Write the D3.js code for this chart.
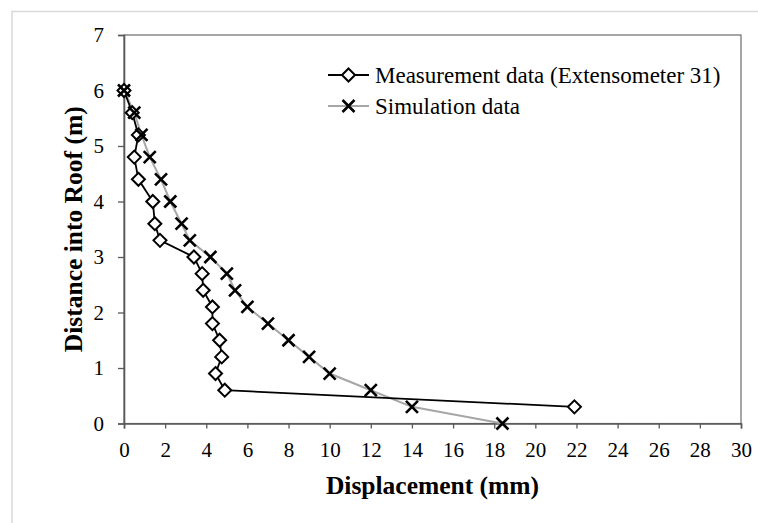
<!DOCTYPE html>
<html>
<head>
<meta charset="utf-8">
<script src="https://cdn.jsdelivr.net/npm/d3@7"></script>
<style>
  body { margin: 0; background: #fff; }
  svg { display: block; font-family: "Liberation Serif", "Times New Roman", serif; }
</style>
</head>
<body>
<svg></svg>
<script>
let width = 758;
let height = 523;

// measurement data (extensometer 31)
let measDepth = [6, 5.6, 5.2, 4.8, 4.4, 4.0, 3.6, 3.3, 3.0, 2.7, 2.4, 2.1, 1.8, 1.5, 1.2, 0.9, 0.6, 0.3];
let measDisp = [0, 0.4, 0.7, 0.5, 0.7, 1.4, 1.5, 1.75, 3.4, 3.8, 3.85, 4.3, 4.3, 4.65, 4.75, 4.45, 4.9, 21.9];

// simulation data
let simDepth = [6, 5.6, 5.2, 4.8, 4.4, 4.0, 3.6, 3.3, 3.0, 2.7, 2.4, 2.1, 1.8, 1.5, 1.2, 0.9, 0.6, 0.3, 0];
let simDisp = [0, 0.5, 0.85, 1.25, 1.8, 2.25, 2.8, 3.2, 4.2, 5.0, 5.4, 6.0, 7.0, 8.0, 9.0, 10.0, 12.0, 14.0, 18.4];

let xTicks = d3.range(0, 31, 2);
let yTicks = [0, 1, 2, 3, 4, 5, 6, 7];
let legendLabels = ['Measurement data (Extensometer 31)', 'Simulation data'];

let margin = {left: 124, right: 17, top: 35, bottom: 99.5};
let plotW = width - margin.left - margin.right;
let plotH = height - margin.top - margin.bottom;

let x = d3.scaleLinear().domain([0, 30]).range([0, plotW]);
let y = d3.scaleLinear().domain([0, 7]).range([plotH, 0]);

let svg = d3.select('svg')
  .attr('width', width)
  .attr('height', height);

// light outer frame
svg.append('rect')
  .attr('x', 12).attr('y', 11.5)
  .attr('width', 800).attr('height', 600)
  .attr('fill', 'none')
  .attr('stroke', '#d9d9d9')
  .attr('stroke-width', 1.5);

let g = svg.append('g')
  .attr('transform', `translate(${margin.left}, ${margin.top})`);

// plot box
g.append('rect')
  .attr('width', plotW).attr('height', plotH)
  .attr('fill', 'none')
  .attr('stroke', '#6b6b6b')
  .attr('stroke-width', 1.2);

let xAxis = g.append('g')
  .attr('transform', `translate(0, ${plotH})`)
  .call(d3.axisBottom(x).tickValues(xTicks).tickFormat(d3.format('d')).tickSize(5).tickPadding(14));

let yAxis = g.append('g')
  .call(d3.axisLeft(y).tickValues(yTicks).tickFormat(d3.format('d')).tickSize(6).tickPadding(14));

[xAxis, yAxis].forEach(a => {
  a.select('.domain').attr('stroke', '#595959').attr('stroke-width', 1.6);
  a.selectAll('.tick line').attr('stroke', '#595959').attr('stroke-width', 1.3);
  a.selectAll('.tick text')
    .attr('fill', '#000')
    .style('font-family', '"Liberation Serif", serif')
    .style('font-size', '21px');
});

// axis titles
svg.append('text')
  .attr('x', margin.left + plotW / 2)
  .attr('y', 494)
  .attr('text-anchor', 'middle')
  .style('font-weight', 'bold')
  .style('font-size', '25.5px')
  .text('Displacement (mm)');

svg.append('text')
  .attr('transform', `translate(82, ${margin.top + plotH / 2}) rotate(-90)`)
  .attr('text-anchor', 'middle')
  .style('font-weight', 'bold')
  .style('font-size', '25.5px')
  .text('Distance into Roof (m)');

let measData = measDepth.map((d, i) => ({x: measDisp[i], y: d}));
let simData = simDepth.map((d, i) => ({x: simDisp[i], y: d}));

let line = d3.line()
  .x(d => x(d.x))
  .y(d => y(d.y));

g.append('path')
  .datum(simData)
  .attr('fill', 'none')
  .attr('stroke', '#a6a6a6')
  .attr('stroke-width', 2)
  .attr('d', line);

g.append('path')
  .datum(measData)
  .attr('fill', 'none')
  .attr('stroke', '#000')
  .attr('stroke-width', 1.8)
  .attr('d', line);

// marker shapes
let diamond = 'M0,-6.5L6.5,0L0,6.5L-6.5,0Z';
let cross = 'M-6,-6L6,6M-6,6L6,-6';

g.selectAll('.meas-pt')
  .data(measData)
  .enter()
  .append('path')
    .classed('meas-pt', true)
    .attr('transform', d => `translate(${x(d.x)}, ${y(d.y)})`)
    .attr('d', diamond)
    .attr('fill', '#fff')
    .attr('stroke', '#000')
    .attr('stroke-width', 2);

g.selectAll('.sim-pt')
  .data(simData)
  .enter()
  .append('path')
    .classed('sim-pt', true)
    .attr('transform', d => `translate(${x(d.x)}, ${y(d.y)})`)
    .attr('d', cross)
    .attr('fill', 'none')
    .attr('stroke', '#000')
    .attr('stroke-width', 2.6);

// legend
let legend = svg.append('g');
let legendY = [75, 106];
legendLabels.forEach((label, i) => {
  let row = legend.append('g')
    .attr('transform', `translate(328, ${legendY[i]})`);
  row.append('line')
    .attr('x1', 0).attr('x2', 41)
    .attr('stroke', i === 0 ? '#000' : '#a6a6a6')
    .attr('stroke-width', i === 0 ? 1.8 : 2);
  row.append('path')
    .attr('transform', 'translate(20.5, 0)')
    .attr('d', i === 0 ? diamond : cross)
    .attr('fill', i === 0 ? '#fff' : 'none')
    .attr('stroke', '#000')
    .attr('stroke-width', i === 0 ? 2 : 2.6);
  row.append('text')
    .attr('x', 47)
    .attr('dy', '0.35em')
    .style('font-size', '23px')
    .text(label);
});
</script>
</body>
</html>
